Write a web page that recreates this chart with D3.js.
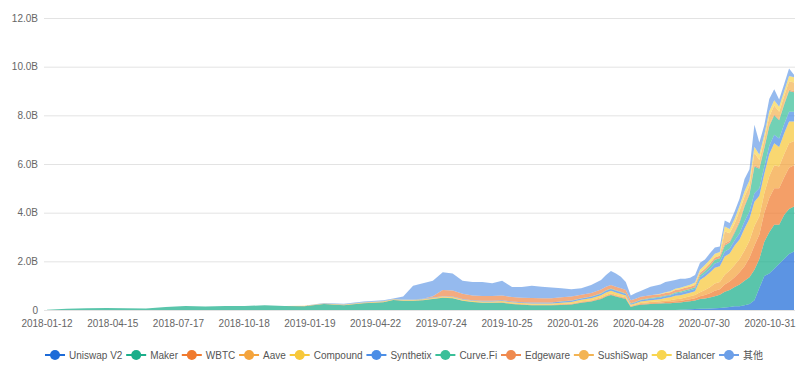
<!DOCTYPE html>
<html>
<head>
<meta charset="utf-8">
<script src="https://cdn.jsdelivr.net/npm/d3@7"></script>
<style>
    body { margin: 0; background: #fff; }
    text { font-family: "Liberation Sans", "Noto Sans CJK SC", sans-serif; }
</style>
</head>
<body>
<svg id="chart" width="801" height="376"></svg>
<script>
// sample dates (4-weekly while flat, 2-weekly in 2019/20, weekly from June 2020)
const dates = [
    '2018-01-12', '2018-02-09', '2018-03-09', '2018-04-06', '2018-05-04', '2018-06-01', '2018-06-29', '2018-07-27', '2018-08-24',
    '2018-09-21', '2018-10-19', '2018-11-16', '2018-12-14', '2019-01-11', '2019-02-08', '2019-03-08', '2019-04-05', '2019-05-03',
    '2019-05-17', '2019-05-31', '2019-06-14', '2019-06-28', '2019-07-12', '2019-07-26', '2019-08-09', '2019-08-23', '2019-09-06',
    '2019-09-20', '2019-10-04', '2019-10-18', '2019-11-01', '2019-11-15', '2019-11-29', '2019-12-13', '2019-12-27', '2020-01-10',
    '2020-01-24', '2020-02-07', '2020-02-21', '2020-03-06', '2020-03-13', '2020-03-20', '2020-03-27', '2020-04-03', '2020-04-10',
    '2020-04-17', '2020-04-24', '2020-05-01', '2020-05-15', '2020-05-29',
    '2020-06-05', '2020-06-12', '2020-06-19', '2020-06-26', '2020-07-03', '2020-07-10', '2020-07-17', '2020-07-24', '2020-07-31',
    '2020-08-07', '2020-08-14', '2020-08-21', '2020-08-28', '2020-09-04', '2020-09-11', '2020-09-18', '2020-09-25', '2020-10-02',
    '2020-10-09', '2020-10-16', '2020-10-23', '2020-10-30', '2020-11-06', '2020-11-13', '2020-11-20', '2020-11-27', '2020-12-04'
]

// locked value, billions USD
const uniswapV2 = [
    0, 0, 0, 0, 0, 0, 0, 0, 0, 0, 0, 0, 0, 0, 0, 0, 0, 0,
    0, 0, 0, 0, 0, 0, 0, 0, 0, 0, 0, 0, 0, 0, 0, 0, 0, 0, 0, 0, 0, 0, 0, 0, 0, 0, 0, 0, 0, 0, 0, 0, 0, 0,
    0, .01, .02, .03, .04, .05, .05, .06, .07, .08, .1, .12, .15, .15, .2, .25, .4, .9, 1.4, 1.5, 1.7, 1.9, 2.1, 2.3, 2.4, 2.6, 2.65
]
const maker = [
    .01, .05, .07, .08, .07, .06, .12, .16, .14, .16, .16, .2, .16, .15, .25, .2, .28, .32,
    .41, .38, .38, .4, .45, .5, .48, .38, .33, .3, .3, .3, .25, .22, .2, .2, .2, .21, .23, .3, .35, .45, .55, .62, .55, .5, .45, .12, .18, .22, .25, .27,
    .28, .28, .3, .3, .32, .33, .35, .4, .42, .45, .5, .55, .65, .7, .8, .9, 1.0, 1.1, 1.25, 1.2, 1.4, 1.7, 1.8, 1.6, 1.8, 1.85, 1.85
]
const wbtc = [
    0, 0, 0, 0, 0, 0, 0, 0, 0, 0, 0, 0, 0, .01, .01, .01, .01, .01,
    .01, .01, .01, .01, .01, .01, .01, .01, .01, .01, .01, .02, .02, .02, .02, .02, .02, .02, .02, .02, .02, .03, .03, .03, .03, .03, .03, .02, .02, .03, .03, .03,
    .05, .05, .06, .06, .07, .08, .09, .12, .15, .18, .22, .22, .3, .35, .4, .5, .6, .8, 1.0, 1.0, 1.2, 1.4, 1.5, 1.5, 1.55, 1.7, 1.7
]
const aave = [
    0, 0, 0, 0, 0, 0, 0, 0, 0, 0, 0, 0, 0, 0, 0, 0, 0, 0,
    0, 0, 0, 0, 0, 0, 0, 0, 0, 0, 0, 0, 0, 0, 0, 0, 0, .02, .02, .03, .03, .04, .04, .04, .04, .04, .04, .03, .03, .04, .05, .06,
    .06, .07, .08, .09, .1, .12, .14, .16, .2, .25, .3, .3, .4, .45, .5, .55, .65, .7, .8, .75, .8, .9, .95, .9, .95, 1.0, 1.0
]
const compound = [
    0, 0, 0, 0, 0, 0, 0, 0, 0, 0, 0, 0, 0, .01, .01, .02, .02, .03,
    .02, .03, .03, .03, .03, .04, .04, .04, .04, .04, .04, .05, .05, .05, .05, .05, .05, .05, .06, .07, .08, .09, .1, .1, .1, .09, .08, .05, .05, .06, .07, .08,
    .1, .12, .15, .15, .15, .15, .15, .5, .55, .6, .65, .65, .75, .7, .8, .8, .9, .9, 1.0, .85, .8, .9, .9, .8, .85, .9, .8
]
const synthetix = [
    0, 0, 0, 0, 0, 0, 0, 0, 0, 0, 0, 0, 0, 0, 0, .01, .01, .01,
    .01, .01, .02, .02, .02, .02, .02, .02, .02, .03, .03, .03, .03, .03, .04, .04, .04, .05, .05, .05, .06, .06, .07, .07, .07, .07, .06, .04, .04, .05, .06, .07,
    .08, .08, .09, .1, .1, .1, .1, .12, .13, .15, .17, .18, .2, .2, .22, .25, .3, .3, .35, .3, .3, .35, .35, .35, .38, .4, .4
]
const curveFi = [
    0, 0, 0, 0, 0, 0, 0, 0, 0, 0, 0, 0, 0, 0, 0, 0, 0, 0,
    0, 0, 0, 0, 0, 0, 0, 0, 0, 0, 0, 0, 0, 0, 0, 0, 0, .01, .01, .01, .01, .02, .02, .02, .02, .02, .02, .02, .02, .02, .03, .03,
    .03, .03, .04, .04, .05, .05, .06, .08, .1, .12, .15, .15, .25, .25, .3, .45, .6, .7, 1.1, .8, .75, .8, .8, .75, .8, .85, .8
]
const edgeware = [
    0, 0, 0, 0, 0, 0, 0, 0, 0, 0, 0, 0, 0, 0, 0, 0, 0, 0,
    0, 0, 0, 0, .05, .25, .25, .22, .2, .2, .2, .2, .18, .18, .18, .17, .17, .16, .16, .15, .15, .15, .15, .15, .15, .14, .14, .12, .12, .12, .12, .11,
    .1, .1, .1, .1, .1, .1, .1, .1, .1, .1, .1, .1, .08, .08, .08, .08, .06, .06, .06, .06, .05, .05, .05, .05, .05, .05, .05
]
const sushiSwap = [
    0, 0, 0, 0, 0, 0, 0, 0, 0, 0, 0, 0, 0, 0, 0, 0, 0, 0,
    0, 0, 0, 0, 0, 0, 0, 0, 0, 0, 0, 0, 0, 0, 0, 0, 0, 0, 0, 0, 0, 0, 0, 0, 0, 0, 0, 0, 0, 0, 0, 0,
    0, 0, 0, 0, 0, 0, 0, 0, 0, 0, 0, 0, .5, .3, .3, .4, .35, .3, .5, .3, .3, .35, .35, .3, .3, .35, .35
]
const balancer = [
    0, 0, 0, 0, 0, 0, 0, 0, 0, 0, 0, 0, 0, 0, 0, 0, 0, 0,
    0, 0, 0, 0, 0, 0, 0, 0, 0, 0, 0, 0, 0, 0, 0, 0, 0, 0, 0, 0, 0, 0, 0, 0, 0, 0, 0, 0, 0, 0, 0, .02,
    .03, .04, .05, .06, .07, .08, .1, .12, .15, .15, .15, .15, .2, .18, .2, .2, .22, .22, .25, .22, .2, .22, .22, .2, .2, .22, .22
]
const others = [
    0, 0, 0, 0, 0, 0, 0, 0, 0, 0, 0, 0, 0, 0, .02, .02, .03, .03,
    .02, .12, .56, .64, .64, .73, .7, .53, .55, .57, .52, .6, .42, .45, .51, .48, .44, .37, .3, .26, .33, .39, .48, .57, .54, .48, .33, .2, .24, .24, .35, .38,
    .42, .42, .36, .37, .3, .29, .31, .29, .23, .27, .26, .23, .25, .25, .3, .3, .5, .45, .9, .5, .4, .5, .45, .3, .3, .3, .1
]

const seriesNames = ['Uniswap V2', 'Maker', 'WBTC', 'Aave', 'Compound', 'Synthetix', 'Curve.Fi', 'Edgeware', 'SushiSwap', 'Balancer', '其他']
const seriesValues = [uniswapV2, maker, wbtc, aave, compound, synthetix, curveFi, edgeware, sushiSwap, balancer, others]
const seriesColors = ['#1d6bd8', '#1aae8a', '#f07a2e', '#f4a43c', '#f7c83a', '#4c8ee6', '#3bbf99', '#ef8a4f', '#f3b454', '#f8d550', '#6c9fe8']

const xTickLabels = ['2018-01-12', '2018-04-15', '2018-07-17', '2018-10-18', '2019-01-19', '2019-04-22',
    '2019-07-24', '2019-10-25', '2020-01-26', '2020-04-28', '2020-07-30', '2020-10-31']
const yTickValues = [0, 2, 4, 6, 8, 10, 12]

const parse = d3.utcParse('%Y-%m-%d')
const rows = dates.map((d, i) => {
    const row = { date: parse(d) }
    seriesNames.forEach((n, j) => { row[n] = seriesValues[j][i] })
    return row
})

const svg = d3.select('#chart')

const x = d3.scaleUtc()
    .domain([parse(dates[0]), parse(dates[dates.length - 1])])
    .range([47, 794])

const y = d3.scaleLinear()
    .domain([0, 12])
    .range([310, 18])

// grid
svg.append('g')
    .selectAll('line')
    .data(yTickValues)
    .join('line')
    .attr('x1', 44)
    .attr('x2', 795)
    .attr('y1', d => y(d) + 0.5)
    .attr('y2', d => y(d) + 0.5)
    .attr('stroke', '#e3e3e3')
    .attr('stroke-width', 1)

svg.append('g')
    .selectAll('text')
    .data(yTickValues)
    .join('text')
    .attr('x', 38)
    .attr('y', d => y(d) + 3.5)
    .attr('text-anchor', 'end')
    .attr('font-size', 10)
    .attr('fill', '#666')
    .text(d => d === 0 ? '0' : d.toFixed(1) + 'B')

const stack = d3.stack().keys(seriesNames)
const layers = stack(rows)

const area = d3.area()
    .x(d => x(d.data.date))
    .y0(d => y(d[0]))
    .y1(d => y(d[1]))

svg.append('g')
    .selectAll('path')
    .data(layers)
    .join('path')
    .attr('d', area)
    .attr('fill', (d, i) => seriesColors[i])
    .attr('fill-opacity', 0.72)

// x labels
svg.append('g')
    .selectAll('text')
    .data(xTickLabels)
    .join('text')
    .attr('x', d => x(parse(d)))
    .attr('y', 327)
    .attr('text-anchor', 'middle')
    .attr('font-size', 10)
    .attr('fill', '#666')
    .text(d => d)

// legend, spread over the same width as the reference
const legend = svg.append('g').attr('transform', 'translate(45,355)')
const items = seriesNames.map((n, i) => {
    const item = legend.append('g')
    item.append('line')
        .attr('x1', 0).attr('x2', 20)
        .attr('stroke', seriesColors[i])
        .attr('stroke-width', 2)
    item.append('circle')
        .attr('cx', 10).attr('r', 5)
        .attr('fill', seriesColors[i])
    const t = item.append('text')
        .attr('x', 24)
        .attr('y', 3.5)
        .attr('font-size', 10)
        .attr('fill', '#555')
        .text(n)
    return { item, w: 24 + t.node().getComputedTextLength() }
})
const gap = (718 - d3.sum(items, d => d.w)) / (items.length - 1)
let cursor = 0
items.forEach(d => {
    d.item.attr('transform', `translate(${cursor},0)`)
    cursor += d.w + gap
})
</script>
</body>
</html>
